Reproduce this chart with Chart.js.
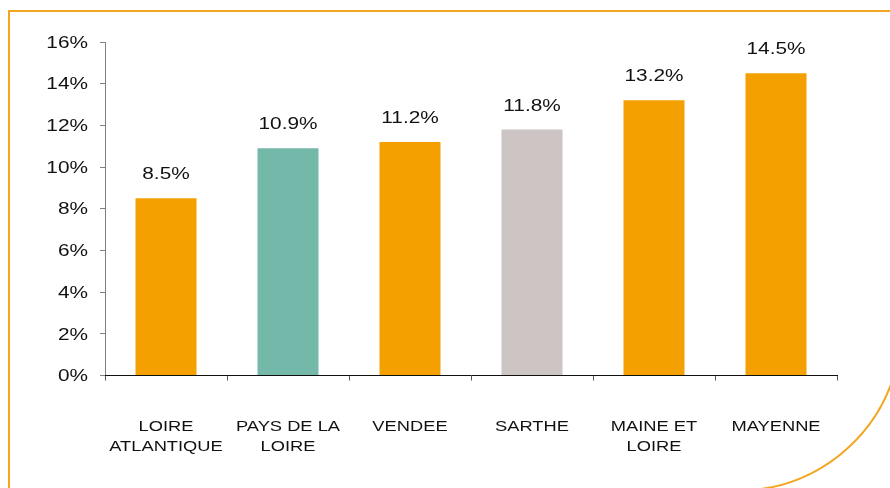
<!DOCTYPE html>
<html>
<head>
<meta charset="utf-8">
<script src="https://cdn.jsdelivr.net/npm/chart.js@4/dist/chart.umd.min.js"></script>
<style>
html,body{margin:0;padding:0;background:#fff;overflow:hidden;}
canvas{display:block;}
</style>
</head>
<body>
<canvas id="c" width="890" height="488"></canvas>
<script>
const categories = [["LOIRE", "ATLANTIQUE"], ["PAYS DE LA", "LOIRE"], ["VENDEE"], ["SARTHE"], ["MAINE ET", "LOIRE"], ["MAYENNE"]];
const values = [8.5, 10.9, 11.2, 11.8, 13.2, 14.5];
const valueLabels = ["8.5%", "10.9%", "11.2%", "11.8%", "13.2%", "14.5%"];
const barColors = ["#F4A000", "#74B8AA", "#F4A000", "#CDC4C4", "#F4A000", "#F4A000"];
const yTicks = [0, 2, 4, 6, 8, 10, 12, 14, 16];

const FONT = "'Liberation Sans', Arial, sans-serif";

function wideText(ctx, text, x, y, align, size, sx) {
  ctx.save();
  ctx.font = size + 'px ' + FONT;
  ctx.fillStyle = '#111';
  ctx.textBaseline = 'alphabetic';
  ctx.textAlign = align;
  ctx.translate(x, y);
  ctx.scale(sx, 1);
  ctx.fillText(text, 0, 0);
  ctx.restore();
}

const framePlugin = {
  id: 'frame',
  beforeDraw(chart) {
    const ctx = chart.ctx;
    ctx.save();
    ctx.fillStyle = '#fff';
    ctx.fillRect(0, 0, chart.width, chart.height);
    ctx.strokeStyle = '#F4A520';
    ctx.lineWidth = 2;
    ctx.beginPath();
    ctx.moveTo(900, 11);
    ctx.lineTo(9, 11);
    ctx.lineTo(9, 500);
    ctx.stroke();
    ctx.beginPath();
    ctx.arc(737.5, 326.7, 164, 0.3, 1.5);
    ctx.stroke();
    ctx.restore();
  }
};

const textPlugin = {
  id: 'texts',
  afterDraw(chart) {
    const ctx = chart.ctx;
    const y = chart.scales.y, x = chart.scales.x;
    // y tick labels
    yTicks.forEach(v => {
      wideText(ctx, v + '%', 88, y.getPixelForValue(v) + 5.7, 'right', 16, 1.3);
    });
    // category labels
    categories.forEach((lines, i) => {
      const cx = x.getPixelForValue(i);
      lines.forEach((t, j) => {
        wideText(ctx, t, cx, 431 + j * 20, 'center', 15, 1.22);
      });
    });
    // value labels
    const meta = chart.getDatasetMeta(0);
    meta.data.forEach((bar, i) => {
      wideText(ctx, valueLabels[i], bar.x, bar.y - 19, 'center', 16, 1.3);
    });
  }
};

new Chart(document.getElementById('c'), {
  type: 'bar',
  data: {
    labels: categories,
    datasets: [{
      data: values,
      backgroundColor: barColors,
      borderWidth: 0,
      categoryPercentage: 1,
      barPercentage: 0.5
    }]
  },
  plugins: [framePlugin, textPlugin],
  options: {
    responsive: false,
    animation: false,
    devicePixelRatio: 1,
    layout: { padding: { left: 0, top: 42, right: 53, bottom: 0 } },
    plugins: { legend: { display: false }, tooltip: { enabled: false } },
    scales: {
      y: {
        min: 0, max: 16,
        afterBuildTicks(scale) { scale.ticks = yTicks.map(v => ({ value: v })); },
        afterFit(scale) { scale.width = 105; },
        ticks: { display: false },
        grid: { drawOnChartArea: false, tickLength: 5, color: '#808080' },
        border: { color: '#808080', width: 1 }
      },
      x: {
        afterFit(scale) { scale.height = 112.5; },
        ticks: { display: false, autoSkip: false },
        grid: { drawOnChartArea: false, tickLength: 5, color: '#555', offset: true },
        border: { color: '#111', width: 1 }
      }
    }
  }
});
</script>
</body>
</html>
